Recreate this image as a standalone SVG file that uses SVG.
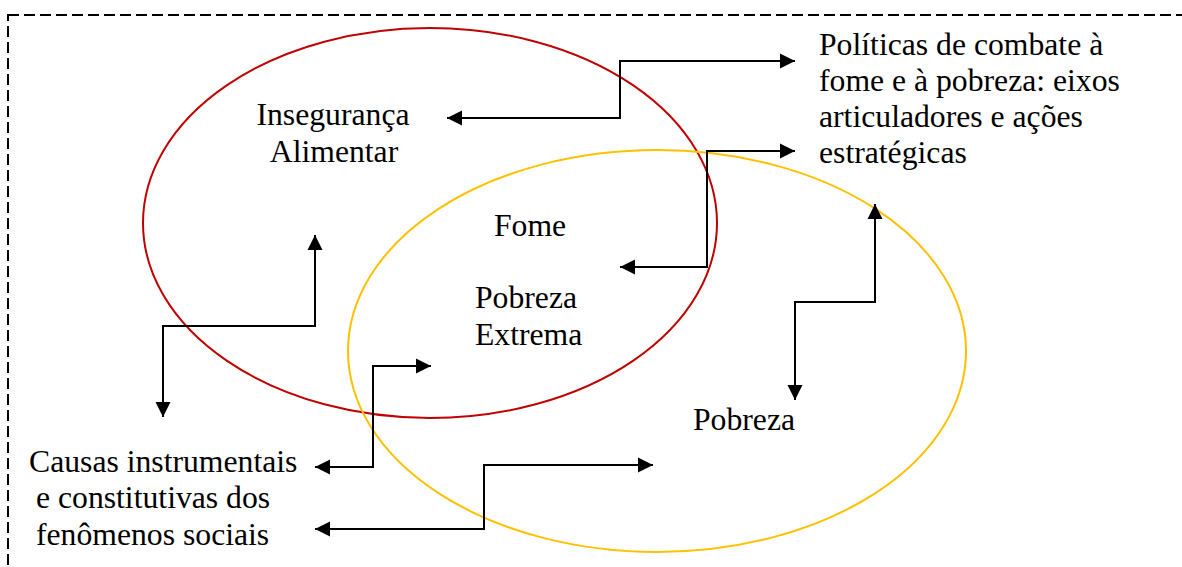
<svg xmlns="http://www.w3.org/2000/svg" width="1182" height="567" viewBox="0 0 1182 567">
<style>
text{font-family:"Liberation Serif","Times New Roman","DejaVu Serif",serif;font-size:31.7px;fill:#000}
.conn{fill:none;stroke:#000;stroke-width:2}
</style>
<defs>
<marker id="ah" markerUnits="userSpaceOnUse" markerWidth="16" markerHeight="16" viewBox="0 0 16 16" refX="15" refY="8" orient="auto-start-reverse">
<path d="M0,0.5 L15,8 L0,15.5 Z" fill="#000"/>
</marker>
</defs>
<rect x="8" y="15" width="1185" height="570" fill="none" stroke="#000" stroke-width="2" stroke-dasharray="11,5"/>
<g id="inseguranca">
<ellipse cx="430" cy="223" rx="287" ry="195" fill="none" stroke="#C00000" stroke-width="2"/>
<text x="333" y="125" text-anchor="middle">Insegurança</text>
<text x="334" y="162" text-anchor="middle">Alimentar</text>
</g>
<g id="pobreza">
<ellipse cx="657" cy="351" rx="309" ry="201" fill="none" stroke="#FFC000" stroke-width="2"/>
<text x="693" y="430">Pobreza</text>
</g>
<g id="fome">
<text x="494" y="236">Fome</text>
</g>
<g id="pobreza-extrema">
<text x="475" y="308">Pobreza</text>
<text x="475" y="345">Extrema</text>
</g>
<g id="politicas">
<text x="819" y="55">Políticas de combate à</text>
<text x="819" y="91">fome e à pobreza: eixos</text>
<text x="819" y="127">articuladores e ações</text>
<text x="819" y="163">estratégicas</text>
</g>
<g id="causas">
<text x="29" y="472">Causas instrumentais</text>
<text x="36" y="508">e constitutivas dos</text>
<text x="36" y="545">fenômenos sociais</text>
</g>
<g id="connectors">
<path class="conn" d="M447,118 H620 V61 H795" marker-start="url(#ah)" marker-end="url(#ah)"/>
<path class="conn" d="M620,267 H707 V151 H795" marker-start="url(#ah)" marker-end="url(#ah)"/>
<path class="conn" d="M315,235 V326 H163 V417" marker-start="url(#ah)" marker-end="url(#ah)"/>
<path class="conn" d="M431,366 H373 V467 H315" marker-start="url(#ah)" marker-end="url(#ah)"/>
<path class="conn" d="M653,465 H484 V529 H315" marker-start="url(#ah)" marker-end="url(#ah)"/>
<path class="conn" d="M875,204 V302 H795 V400" marker-start="url(#ah)" marker-end="url(#ah)"/>
</g>
</svg>
